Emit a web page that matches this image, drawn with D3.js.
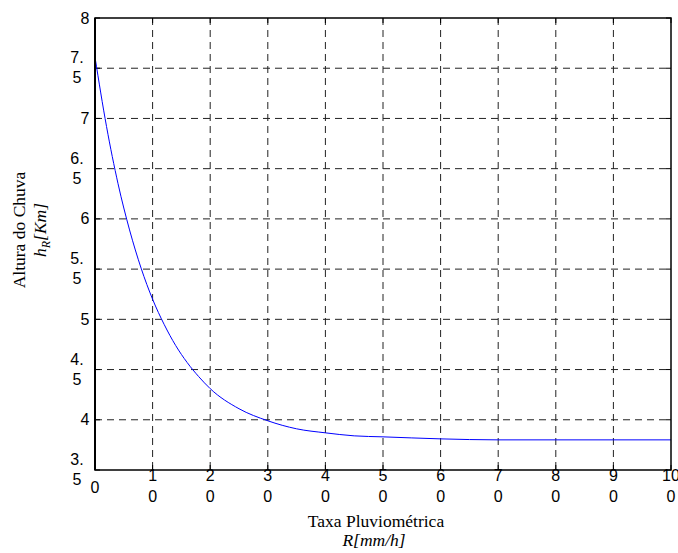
<!DOCTYPE html>
<html lang="pt">
<head>
<meta charset="UTF-8">
<title>Altura do Chuva x Taxa Pluviométrica</title>
<style>
    body { margin: 0; background: #fff; }
    svg { display: block; }
    .tick-label { font-family: 'Liberation Sans', Arial, sans-serif; font-size: 16px; fill: #000; }
    .axis-title { font-family: 'Liberation Serif', 'Times New Roman', serif; font-size: 17.5px; fill: #000; }
    .grid line { stroke: #222; stroke-width: 1; stroke-dasharray: 7,5; }
</style>
</head>
<body>
<div id="chart"></div>
<script src="https://d3js.org/d3.v7.min.js"></script>
<script>
    const width = 678, height = 553;
    const margin = { left: 95, right: 7, top: 18, bottom: 83 };

    // values
    const rainRate = [0, 2, 4, 6, 8, 10, 12, 14, 16, 18, 20, 25, 30, 35, 40, 45, 50, 60, 70, 80, 90, 100];
    const rainHeight = [7.61, 6.92, 6.35, 5.89, 5.51, 5.20, 4.95, 4.74, 4.57, 4.43, 4.31, 4.11, 3.99, 3.91, 3.87, 3.84, 3.83, 3.81, 3.80, 3.80, 3.80, 3.80];

    const xTicks = [0, 10, 20, 30, 40, 50, 60, 70, 80, 90, 100];
    const xTickLabels = [["0"], ["1", "0"], ["2", "0"], ["3", "0"], ["4", "0"], ["5", "0"], ["6", "0"], ["7", "0"], ["8", "0"], ["9", "0"], ["10", "0"]];
    const yTicks = [3.5, 4, 4.5, 5, 5.5, 6, 6.5, 7, 7.5, 8];
    const yTickLabels = [["3.", "5"], ["4"], ["4.", "5"], ["5"], ["5.", "5"], ["6"], ["6.", "5"], ["7"], ["7.", "5"], ["8"]];

    const svg = d3.select("#chart").append("svg")
        .attr("width", width)
        .attr("height", height);

    const x = d3.scaleLinear().domain([0, 100]).range([margin.left, width - margin.right]);
    const y = d3.scaleLinear().domain([3.5, 8]).range([height - margin.bottom, margin.top]);

    // grid
    const grid = svg.append("g").attr("class", "grid");
    grid.selectAll(".vx").data(xTicks.slice(1, -1)).enter().append("line")
        .attr("x1", d => x(d)).attr("x2", d => x(d))
        .attr("y1", y(8)).attr("y2", y(3.5));
    grid.selectAll(".hy").data(yTicks.slice(1, -1)).enter().append("line")
        .attr("y1", d => y(d)).attr("y2", d => y(d))
        .attr("x1", x(0)).attr("x2", x(100));

    // inner ticks on all four sides
    const ticks = svg.append("g").attr("stroke", "#000").attr("stroke-width", 1);
    xTicks.forEach(t => {
        ticks.append("line").attr("x1", x(t)).attr("x2", x(t)).attr("y1", y(3.5)).attr("y2", y(3.5) - 5);
        ticks.append("line").attr("x1", x(t)).attr("x2", x(t)).attr("y1", y(8)).attr("y2", y(8) + 5);
    });
    yTicks.forEach(t => {
        ticks.append("line").attr("y1", y(t)).attr("y2", y(t)).attr("x1", x(0)).attr("x2", x(0) + 5);
        ticks.append("line").attr("y1", y(t)).attr("y2", y(t)).attr("x1", x(100)).attr("x2", x(100) - 5);
    });

    // curve
    const line = d3.line()
        .x((d, i) => x(rainRate[i]))
        .y(d => y(d))
        .curve(d3.curveMonotoneX);
    svg.append("path")
        .datum(rainHeight)
        .attr("d", line)
        .attr("fill", "none")
        .attr("stroke", "#0000ff")
        .attr("stroke-width", 1);

    // axes box
    svg.append("rect")
        .attr("x", x(0)).attr("y", y(8))
        .attr("width", x(100) - x(0)).attr("height", y(3.5) - y(8))
        .attr("fill", "none").attr("stroke", "#000").attr("stroke-width", 1.5);
    svg.append("line")
        .attr("x1", x(0)).attr("x2", x(0)).attr("y1", y(8)).attr("y2", y(3.5))
        .attr("stroke", "#000").attr("stroke-width", 2);

    // x tick labels
    xTicks.forEach((t, i) => {
        const lines = xTickLabels[i];
        const txt = svg.append("text").attr("class", "tick-label").attr("text-anchor", "middle");
        if (lines.length === 1) {
            txt.attr("x", x(t)).attr("y", y(3.5) + 22.5).text(lines[0]);
        } else {
            lines.forEach((s, j) => {
                txt.append("tspan").attr("x", x(t)).attr("y", y(3.5) + 10.5 + j * 21).text(s);
            });
        }
    });

    // y tick labels
    yTicks.forEach((t, i) => {
        const lines = yTickLabels[i];
        if (lines.length === 1) {
            svg.append("text").attr("class", "tick-label")
                .attr("text-anchor", "end")
                .attr("x", x(0) - 5.5).attr("y", y(t) + 5.5).text(lines[0]);
        } else {
            const txt = svg.append("text").attr("class", "tick-label").attr("text-anchor", "middle");
            lines.forEach((s, j) => {
                txt.append("tspan").attr("x", x(0) - 18).attr("y", y(t) - 5 + j * 20).text(s);
            });
        }
    });

    // axis titles
    svg.append("text").attr("class", "axis-title").attr("text-anchor", "middle")
        .attr("x", 376).attr("y", 527).text("Taxa Pluviométrica");
    svg.append("text").attr("class", "axis-title").attr("text-anchor", "middle")
        .attr("x", 374).attr("y", 546).attr("font-style", "italic").text("R[mm/h]");

    const yt = svg.append("g").attr("transform", "translate(25,230) rotate(-90)");
    yt.append("text").attr("class", "axis-title").attr("text-anchor", "middle")
        .attr("x", 0).attr("y", 0).text("Altura do Chuva");
    const yt2 = yt.append("text").attr("class", "axis-title").attr("text-anchor", "middle")
        .attr("x", 0).attr("y", 21).attr("font-style", "italic");
    yt2.append("tspan").text("h");
    yt2.append("tspan").attr("font-size", "12px").attr("dy", 4).text("R");
    yt2.append("tspan").attr("dy", -4).text("[Km]");
</script>
</body>
</html>
